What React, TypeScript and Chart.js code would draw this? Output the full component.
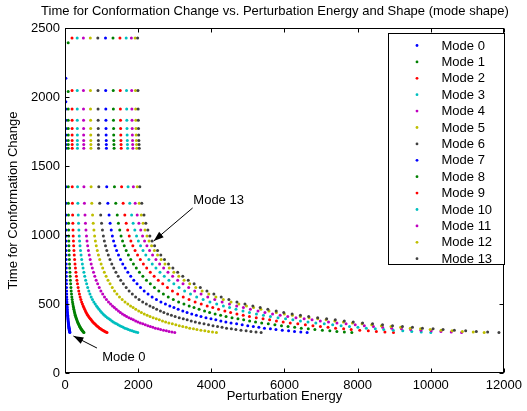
import React, { useEffect, useRef } from "react";
import { Chart, registerables } from "chart.js";

Chart.register(...registerables);

const chartTitle = "Time for Conformation Change vs. Perturbation Energy and Shape (mode shape)";
const xAxisTitle = "Perturbation Energy";
const yAxisTitle = "Time for Conformation Change";

const xTickValues = [0, 2000, 4000, 6000, 8000, 10000, 12000];
const xTickLabels = ["0", "2000", "4000", "6000", "8000", "10000", "12000"];
const yTickValues = [0, 500, 1000, 1500, 2000, 2500];
const yTickLabels = ["0", "500", "1000", "1500", "2000", "2500"];

const modeNames = [
  "Mode 0", "Mode 1", "Mode 2", "Mode 3", "Mode 4", "Mode 5", "Mode 6",
  "Mode 7", "Mode 8", "Mode 9", "Mode 10", "Mode 11", "Mode 12", "Mode 13",
];
const modeColors = [
  "#0000ff", "#008000", "#ff0000", "#00bfbf", "#bf00bf", "#bfbf00", "#404040",
  "#0000ff", "#008000", "#ff0000", "#00bfbf", "#bf00bf", "#bfbf00", "#404040",
];
// energy of each mode relative to mode 13 at the same time level
const modeEnergyRatio = [
  0.0113, 0.0437, 0.0968, 0.1676, 0.253, 0.349, 0.452,
  0.558, 0.661, 0.757, 0.843, 0.914, 0.966, 1.0,
];

// shared time levels (rows) and the energy mode 13 has at each of them
const rowTime = [
  2428, 2047, 1913, 1832, 1772, 1725, 1684, 1655, 1628, 1350,
  1230, 1145, 1085, 1036, 993, 957, 922, 888, 855, 822,
  790, 760, 730, 701, 673, 646, 620, 595, 572, 551,
  532, 515, 500, 486, 474, 462, 450, 439, 428, 418,
  409, 401, 393, 385, 377, 370, 363, 356, 349, 343,
  337, 331, 325, 320, 315, 310, 306, 301, 297, 293,
];
const rowEnergyMode13 = [
  1985, 1995, 2000, 2005, 2010, 2015, 2020, 2025, 2030, 2045,
  2100, 2160, 2210, 2265, 2320, 2380, 2450, 2530, 2620, 2720,
  2830, 2950, 3080, 3220, 3370, 3530, 3700, 3880, 4070, 4270,
  4480, 4700, 4920, 5136, 5336, 5545, 5773, 5981, 6209, 6436,
  6662, 6908, 7153, 7390, 7636, 7881, 8135, 8408, 8681, 8954,
  9226, 9499, 9772, 10063, 10336, 10645, 10954, 11245, 11554, 11863,
];
// the first time levels of modes 0 and 1 differ from the shared rows
const mode0TopTime = [2135, 1966];
const mode1TopTime = [2393, 2040];

const annotations = [
  { text: "Mode 13", labelX: 4200, labelY: 1250, tailX: 3490, tailY: 1196, tipX: 2427, tipY: 957 },
  { text: "Mode 0", labelX: 1609, labelY: 116, tailX: 873, tailY: 181, tipX: 230, tipY: 268 },
];

const FONT = "'Liberation Sans', Arial, Helvetica, sans-serif";

function timeFor(m: number, k: number): number {
  if (m === 0 && k < mode0TopTime.length) return mode0TopTime[k];
  if (m === 1 && k < mode1TopTime.length) return mode1TopTime[k];
  return rowTime[k];
}

function drawArrow(ctx: CanvasRenderingContext2D, x1: number, y1: number, x2: number, y2: number) {
  ctx.beginPath();
  ctx.moveTo(x1, y1);
  ctx.lineTo(x2, y2);
  ctx.stroke();
  const ang = Math.atan2(y2 - y1, x2 - x1);
  const L = 10;
  const W = 3.5;
  const c = Math.cos(ang);
  const s = Math.sin(ang);
  const bx = x2 - L * c;
  const by = y2 - L * s;
  ctx.beginPath();
  ctx.moveTo(x2, y2);
  ctx.lineTo(bx + W * s, by - W * c);
  ctx.lineTo(bx - W * s, by + W * c);
  ctx.closePath();
  ctx.fill();
}

const overlayPlugin = {
  id: "overlay",
  afterDraw(chart: any) {
    const ctx: CanvasRenderingContext2D = chart.ctx;
    const { left, right, top, bottom } = chart.chartArea;
    const xs = chart.scales.x;
    const ys = chart.scales.y;
    ctx.save();
    ctx.strokeStyle = "#000";
    ctx.fillStyle = "#000";
    ctx.lineWidth = 1;
    // frame
    const L = Math.round(left) + 0.5;
    const R = Math.round(right) - 0.5;
    const T = Math.round(top) + 0.5;
    const B = Math.round(bottom) - 0.5;
    ctx.strokeRect(L, T, R - L, B - T);
    // inward ticks
    const tl = 4;
    ctx.beginPath();
    xTickValues.forEach((v) => {
      const px = Math.round(xs.getPixelForValue(v)) + 0.5;
      ctx.moveTo(px, B);
      ctx.lineTo(px, B - tl);
      ctx.moveTo(px, T);
      ctx.lineTo(px, T + tl);
    });
    yTickValues.forEach((v) => {
      const py = Math.round(ys.getPixelForValue(v)) + 0.5;
      ctx.moveTo(L, py);
      ctx.lineTo(L + tl, py);
      ctx.moveTo(R, py);
      ctx.lineTo(R - tl, py);
    });
    ctx.stroke();

    // title
    ctx.font = `13px ${FONT}`;
    ctx.textAlign = "center";
    ctx.textBaseline = "middle";
    ctx.fillText(chartTitle, 275, 11.5);

    // legend
    const lx0 = 388.5;
    const ly0 = 33.5;
    const lx1 = 504.5;
    const ly1 = 264.5;
    ctx.fillStyle = "#fff";
    ctx.fillRect(lx0, ly0, lx1 - lx0, ly1 - ly0);
    ctx.strokeStyle = "#000";
    ctx.strokeRect(lx0, ly0, lx1 - lx0, ly1 - ly0);
    ctx.textAlign = "left";
    ctx.textBaseline = "middle";
    modeNames.forEach((name, i) => {
      const y = 45.5 + i * 16.4;
      ctx.fillStyle = modeColors[i];
      ctx.beginPath();
      ctx.arc(417, y, 1.4, 0, Math.PI * 2);
      ctx.fill();
      ctx.fillStyle = "#000";
      ctx.fillText(name, 441.5, y + 0.5);
    });

    // annotations
    ctx.fillStyle = "#000";
    ctx.strokeStyle = "#000";
    ctx.textAlign = "center";
    annotations.forEach((a) => {
      drawArrow(
        ctx,
        xs.getPixelForValue(a.tailX),
        ys.getPixelForValue(a.tailY),
        xs.getPixelForValue(a.tipX),
        ys.getPixelForValue(a.tipY)
      );
      ctx.fillText(a.text, xs.getPixelForValue(a.labelX), ys.getPixelForValue(a.labelY));
    });
    ctx.restore();
  },
};

export default function App() {
  const ref = useRef<HTMLCanvasElement>(null);
  useEffect(() => {
    const canvas = ref.current;
    if (!canvas) return;
    Chart.defaults.font.family = FONT;
    Chart.defaults.font.size = 13;
    Chart.defaults.color = "#000";
    const datasets = modeNames.map((name, m) => ({
      label: name,
      data: rowTime.map((_, k) => ({
        x: rowEnergyMode13[k] * modeEnergyRatio[m],
        y: timeFor(m, k),
      })),
      backgroundColor: modeColors[m],
      borderColor: modeColors[m],
      pointRadius: 1.5,
      pointBorderWidth: 0,
      pointHoverRadius: 0,
      showLine: false,
      order: modeNames.length - 1 - m,
    }));
    const chart = new Chart(canvas, {
      type: "scatter",
      data: { datasets },
      options: {
        animation: false,
        responsive: false,
        devicePixelRatio: 1,
        events: [],
        layout: { padding: { left: 0, right: 22, top: 28, bottom: 0 } },
        plugins: {
          legend: { display: false },
          tooltip: { enabled: false },
          title: { display: false },
        },
        scales: {
          x: {
            type: "linear",
            min: 0,
            max: 12000,
            afterFit: (s: any) => {
              s.height = 38;
            },
            afterBuildTicks: (s: any) => {
              s.ticks = xTickValues.map((v) => ({ value: v }));
            },
            ticks: {
              callback: (_v: any, i: number) => xTickLabels[i],
              padding: 5,
              color: "#000",
              font: { size: 13, family: FONT },
              maxRotation: 0,
              autoSkip: false,
            },
            grid: { display: false, drawTicks: false },
            border: { display: false },
            title: {
              display: true,
              text: xAxisTitle,
              color: "#000",
              font: { size: 13, family: FONT },
              padding: { top: 0, bottom: 7 },
            },
          },
          y: {
            type: "linear",
            min: 0,
            max: 2500,
            afterFit: (s: any) => {
              s.width = 65;
            },
            afterBuildTicks: (s: any) => {
              s.ticks = yTickValues.map((v) => ({ value: v }));
            },
            ticks: {
              callback: (_v: any, i: number) => yTickLabels[i],
              padding: 5,
              color: "#000",
              font: { size: 13, family: FONT },
              autoSkip: false,
            },
            grid: { display: false, drawTicks: false },
            border: { display: false },
            title: {
              display: true,
              text: yAxisTitle,
              color: "#000",
              font: { size: 13, family: FONT },
              padding: { top: 6, bottom: 0 },
            },
          },
        },
      } as any,
      plugins: [overlayPlugin],
    });
    return () => chart.destroy();
  }, []);
  return (
    <div style={{ position: "absolute", left: 0, top: 0, width: 527, height: 411, background: "#fff" }}>
      <canvas ref={ref} width={527} height={411} style={{ display: "block" }} />
    </div>
  );
}
